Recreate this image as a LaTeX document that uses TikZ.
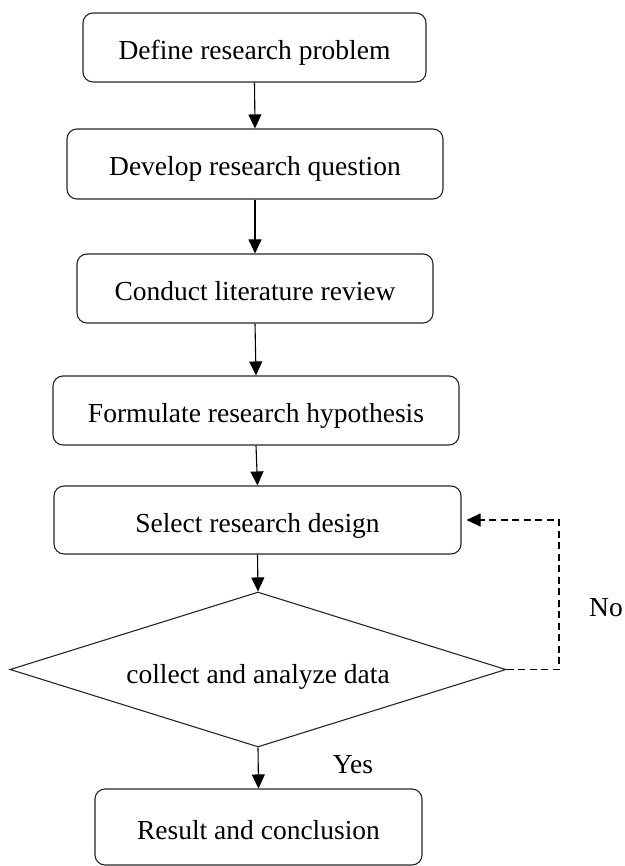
\documentclass[tikz,border=0pt]{standalone}
\usepackage{fontspec}
\setmainfont{Liberation Serif}
\usepackage{tikz}
\usetikzlibrary{arrows.meta,positioning,shapes.geometric}

\tikzset{
    procbox/.style={draw=black!85, line width=1.1pt, rounded corners=10pt, minimum height=69pt, inner sep=0pt, text height=27pt, text depth=3pt},
    decision/.style={diamond, draw=black!85, line width=1.1pt, aspect=3.2, inner sep=0pt, minimum width=496pt, minimum height=155pt, text height=28pt, text depth=1pt},
    flow/.style={-{Triangle[length=14pt,width=13pt]}, line width=1.1pt, draw=black},
    backflow/.style={-{Triangle[length=14pt,width=13pt]}, line width=1.1pt, draw=black, dash pattern=on 7pt off 4.5pt},
}

\begin{document}
\begin{tikzpicture}[x=1pt,y=-1pt,font=\fontsize{27.5}{33}\selectfont]
    \useasboundingbox (0,0) rectangle (624,866);

    % process steps
    \node (define) at (254.5, 47.5) [procbox, minimum width=343pt] {Define research problem};
    \node (question) at (255, 164) [procbox, minimum width=376pt, minimum height=70pt] {Develop research question};
    \node (review) at (255, 288.5) [procbox, minimum width=356pt] {Conduct literature review};
    \node (hypo) at (256, 410.5) [procbox, minimum width=406pt] {Formulate research hypothesis};
    \node (design) at (257.5, 520) [procbox, minimum width=407pt, minimum height=68pt] {Select research design};
    \node (collect) at (258, 669.5) [decision] {collect and analyze data};
    \node (result) at (258.5, 827) [procbox, minimum width=327pt, minimum height=76pt] {Result and conclusion};

    \draw[flow] (define.south) -- (question.north);
    \draw[flow] (question.south) -- (review.north);
    \draw[flow] (review.south) -- (hypo.north);
    \draw[flow] (hypo.south) -- (design.north);
    \draw[flow] (design.south) -- (collect.north);
    \draw[flow] (collect.south) -- (result.north);

    % loop back when the data do not fit
    \coordinate (noturn) at (559, 600);
    \draw[backflow, shorten >=5pt] (collect.east) -| (noturn) |- (design.east);

    \node (nolabel) at (606, 608) [] {No};
    \node (yeslabel) at (353, 765) [] {Yes};
\end{tikzpicture}
\end{document}
